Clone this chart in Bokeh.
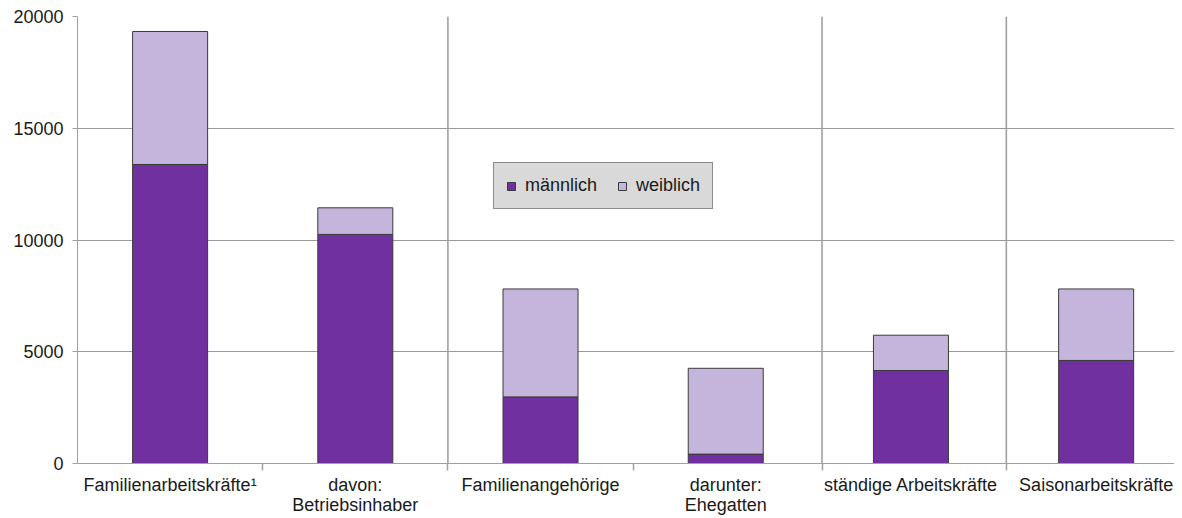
from bokeh.plotting import figure
from bokeh.models import Range1d, FixedTicker, Span, Legend, LegendItem
from bokeh.embed import file_html
from bokeh.resources import INLINE

categories = ["Familienarbeitskräfte¹", "davon:\nBetriebsinhaber", "Familienangehörige",
              "darunter:\nEhegatten", "ständige Arbeitskräfte", "Saisonarbeitskräfte"]
maennlich = [13380, 10250, 2980, 420, 4160, 4610]
weiblich = [5950, 1190, 4830, 3840, 1580, 3200]
y_ticks = [0, 5000, 10000, 15000, 20000]

x = [i + 0.5 for i in range(len(categories))]
data = dict(x=x, maennlich=maennlich, weiblich=weiblich)

FONT = "Liberation Sans"
FS = "18px"

p = figure(width=1174, height=517, output_backend="svg", toolbar_location=None,
           x_range=Range1d(0, 5.923), y_range=Range1d(0, 20000),
           min_border_left=77, min_border_right=0, min_border_top=16, min_border_bottom=54)
p.outline_line_color = None
p.background_fill_color = "white"
p.border_fill_color = "white"

r = p.vbar_stack(["maennlich", "weiblich"], x="x", width=0.405, source=data,
                 color=["#7030a0", "#c4b5dc"], line_color="#3a3a3a", line_width=1)

# separators
for loc in [2, 4.02, 5.015]:
    p.add_layout(Span(location=loc, dimension="height", line_color="#a0a0a0", line_width=1.6))

# axes
p.xaxis.ticker = FixedTicker(ticks=x, minor_ticks=[1, 2, 3, 4.02, 5.015])
p.xaxis.major_label_overrides = {xi: c for xi, c in zip(x, categories)}
p.xaxis.major_tick_out = 0
p.xaxis.major_tick_in = 0
p.xaxis.minor_tick_out = 7
p.xaxis.minor_tick_in = 0
p.xaxis.minor_tick_line_color = "#a0a0a0"
p.xaxis.minor_tick_line_width = 1.5
p.xaxis.axis_line_color = "#a0a0a0"
p.xaxis.major_label_standoff = 4
p.xaxis.major_label_text_font = FONT
p.xaxis.major_label_text_font_size = FS
p.xaxis.major_label_text_line_height = 1.0
p.xaxis.major_label_text_color = "#1a1a1a"

p.yaxis.ticker = FixedTicker(ticks=y_ticks)
p.yaxis.major_tick_out = 5
p.yaxis.major_tick_in = 0
p.yaxis.minor_tick_line_color = None
p.yaxis.major_tick_line_color = "#a0a0a0"
p.yaxis.axis_line_color = "#a0a0a0"
p.yaxis.major_label_standoff = 9
p.yaxis.major_label_text_font = FONT
p.yaxis.major_label_text_font_size = FS
p.yaxis.major_label_text_color = "#1a1a1a"

p.xgrid.grid_line_color = None
p.ygrid.grid_line_color = "#9a9a9a"
p.ygrid.ticker = FixedTicker(ticks=y_ticks)

legend = Legend(items=[LegendItem(label="männlich", renderers=[r[0]]),
                       LegendItem(label="weiblich", renderers=[r[1]])],
                location=(416, 254), orientation="horizontal")
legend.background_fill_color = "#d9d9d9"
legend.background_fill_alpha = 1
legend.border_line_color = "#404040"
legend.border_line_width = 1
legend.label_text_font = FONT
legend.label_text_font_size = FS
legend.label_text_color = "#1a1a1a"
legend.glyph_width = 10
legend.glyph_height = 10
legend.label_standoff = 9
legend.spacing = 20
legend.padding = 12
legend.margin = 0
p.add_layout(legend, "center")

open("out.html", "w").write(file_html(p, INLINE))
